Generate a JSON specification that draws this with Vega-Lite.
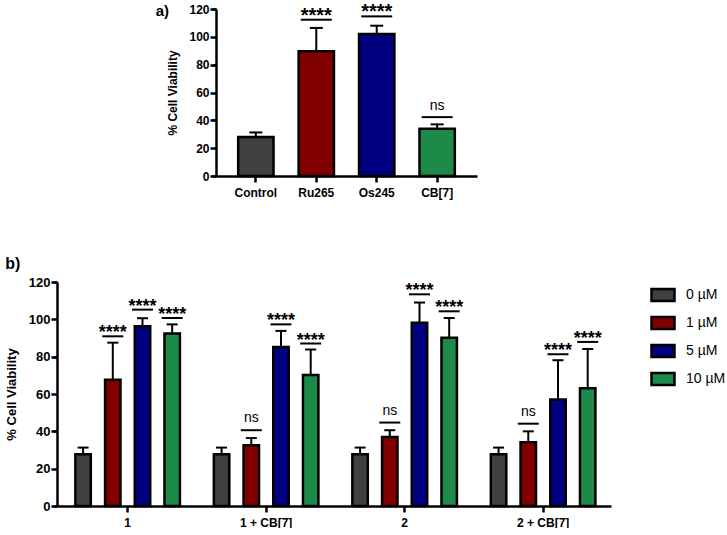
{
  "$schema": "https://vega.github.io/schema/vega-lite/v6.json",
  "padding": {"left": 5, "top": 2, "right": 0, "bottom": 0},
  "background": "white",
  "config": {
    "view": {"stroke": null},
    "font": "Liberation Sans",
    "axis": {
      "domainColor": "black", "domainWidth": 2.5, "tickColor": "black", "tickWidth": 2.5,
      "labelColor": "black", "labelFontWeight": "bold", "labelFont": "Liberation Sans",
      "labelOverlap": false,
      "titleColor": "black", "titleFontWeight": "bold", "titleFont": "Liberation Sans", "grid": false
    }
  },
  "resolve": {"scale": {"color": "independent"}, "legend": {"color": "independent"}},
  "spacing": 58,
  "vconcat": [
    {
      "spacing": 47,
      "bounds": "flush",
      "hconcat": [
        {
          "width": 112, "height": 1,
          "title": {"text": "a)", "anchor": "end", "frame": "group", "orient": "bottom", "fontSize": 15, "fontWeight": "bold", "color": "black", "offset": 0, "dy": -11},
          "data": {"values": [{"label": ""}]},
          "mark": {"type": "text", "opacity": 0},
          "encoding": {"text": {"field": "label"}}
        },
        {
          "width": 261, "height": 167,
          "data": {"values": [
            {"group": "Control", "mean": 28.0, "upper": 31.3, "sig": null, "label": null},
            {"group": "Ru265", "mean": 89.6, "upper": 106.4, "sig": 112.3, "label": "****"},
            {"group": "Os245", "mean": 102.1, "upper": 108.0, "sig": 114.7, "label": "****"},
            {"group": "CB[7]", "mean": 34.0, "upper": 37.1, "sig": 42.3, "label": "ns"}
          ]},
          "encoding": {
            "x": {"field": "group", "type": "nominal", "sort": null,
              "scale": {"paddingInner": 0.415, "paddingOuter": 0.367},
              "axis": {"title": null, "labelAngle": 0, "labelFontSize": 12, "tickSize": 6, "labelPadding": 5}}
          },
          "resolve": {"axis": {"y": "independent"}},
          "layer": [
            {
              "layer": [
                {
                  "mark": {"type": "bar", "stroke": "black", "strokeWidth": 2.5, "opacity": 1},
                  "encoding": {
                    "y": {"field": "mean", "type": "quantitative",
                      "scale": {"domain": [0, 120], "nice": false},
                      "axis": {"title": null, "labels": false,
                        "values": [0, 10, 20, 30, 40, 50, 60, 70, 80, 90, 100, 110, 120],
                        "tickSize": 4}},
                    "color": {"field": "group", "type": "nominal",
                      "scale": {"domain": ["Control", "Ru265", "Os245", "CB[7]"], "range": ["#404040", "#800000", "#000080", "#1e8a4a"]},
                      "legend": null}
                  }
                },
                {
                  "mark": {"type": "rule", "stroke": "black", "strokeWidth": 2},
                  "encoding": {"y": {"field": "mean", "type": "quantitative"}, "y2": {"field": "upper"}}
                },
                {
                  "mark": {"type": "tick", "color": "black", "thickness": 2, "size": 13, "opacity": 1},
                  "encoding": {"y": {"field": "upper", "type": "quantitative"}}
                },
                {
                  "transform": [{"filter": "datum.sig != null"}],
                  "mark": {"type": "tick", "color": "black", "thickness": 2, "size": 31, "opacity": 1},
                  "encoding": {"y": {"field": "sig", "type": "quantitative"}}
                },
                {
                  "transform": [{"filter": "datum.label === '****'"}],
                  "mark": {"type": "text", "fontSize": 20, "fontWeight": "bold", "baseline": "alphabetic", "dy": 2, "color": "black"},
                  "encoding": {"y": {"field": "sig", "type": "quantitative"}, "text": {"field": "label"}}
                },
                {
                  "transform": [{"filter": "datum.label === 'ns'"}],
                  "mark": {"type": "text", "fontSize": 14, "baseline": "alphabetic", "dy": -7, "color": "black"},
                  "encoding": {"y": {"field": "sig", "type": "quantitative"}, "text": {"field": "label"}}
                }
              ]
            },
            {
              "mark": {"type": "rule", "opacity": 0},
              "encoding": {"y": {"field": "mean", "type": "quantitative",
                "axis": {"orient": "left", "values": [0, 20, 40, 60, 80, 100, 120], "labelOverlap": false,
                  "domain": false, "tickSize": 6, "labelFontSize": 12, "labelPadding": 1,
                  "title": "% Cell Viability", "titleFontSize": 12, "titlePadding": 9}}}
            }
          ]
        }
      ]
    },
    {
      "width": 554, "height": 224,
      "title": {"text": "b)", "anchor": "start", "frame": "bounds", "fontSize": 16, "fontWeight": "bold", "color": "black"},
      "data": {"values": [
        {"compound": "1", "conc": "0 µM", "mean": 27.7, "upper": 31.3, "sig": null, "label": null},
        {"compound": "1", "conc": "1 µM", "mean": 67.7, "upper": 87.5, "sig": 90.9, "label": "****"},
        {"compound": "1", "conc": "5 µM", "mean": 96.3, "upper": 100.6, "sig": 105.2, "label": "****"},
        {"compound": "1", "conc": "10 µM", "mean": 92.4, "upper": 97.3, "sig": 100.7, "label": "****"},
        {"compound": "1 + CB[7]", "conc": "0 µM", "mean": 27.7, "upper": 31.3, "sig": null, "label": null},
        {"compound": "1 + CB[7]", "conc": "1 µM", "mean": 32.5, "upper": 36.4, "sig": 40.6, "label": "ns"},
        {"compound": "1 + CB[7]", "conc": "5 µM", "mean": 85.2, "upper": 93.8, "sig": 97.3, "label": "****"},
        {"compound": "1 + CB[7]", "conc": "10 µM", "mean": 70.2, "upper": 83.8, "sig": 87.0, "label": "****"},
        {"compound": "2", "conc": "0 µM", "mean": 27.7, "upper": 31.3, "sig": null, "label": null},
        {"compound": "2", "conc": "1 µM", "mean": 37.0, "upper": 40.6, "sig": 44.7, "label": "ns"},
        {"compound": "2", "conc": "5 µM", "mean": 98.2, "upper": 109.0, "sig": 113.4, "label": "****"},
        {"compound": "2", "conc": "10 µM", "mean": 90.2, "upper": 100.7, "sig": 104.3, "label": "****"},
        {"compound": "2 + CB[7]", "conc": "0 µM", "mean": 27.7, "upper": 31.3, "sig": null, "label": null},
        {"compound": "2 + CB[7]", "conc": "1 µM", "mean": 34.1, "upper": 40.0, "sig": 44.1, "label": "ns"},
        {"compound": "2 + CB[7]", "conc": "5 µM", "mean": 57.0, "upper": 78.1, "sig": 81.3, "label": "****"},
        {"compound": "2 + CB[7]", "conc": "10 µM", "mean": 63.1, "upper": 84.1, "sig": 87.9, "label": "****"}
      ]},
      "encoding": {
        "x": {"field": "compound", "type": "nominal", "sort": ["1", "1 + CB[7]", "2", "2 + CB[7]"],
          "scale": {"paddingInner": 0.2, "paddingOuter": 0.1, "align": 0.55},
          "axis": {"title": null, "labelAngle": 0, "labelFontSize": 12, "tickSize": 6, "labelPadding": 5}},
        "xOffset": {"field": "conc", "type": "nominal", "sort": ["0 µM", "1 µM", "5 µM", "10 µM"],
          "scale": {"paddingInner": 0.48, "paddingOuter": 0.105}}
      },
      "resolve": {"axis": {"y": "independent"}},
      "layer": [
        {
          "layer": [
            {
              "mark": {"type": "bar", "stroke": "black", "strokeWidth": 2.5, "opacity": 1},
              "encoding": {
                "y": {"field": "mean", "type": "quantitative",
                  "scale": {"domain": [0, 120], "nice": false},
                  "axis": {"title": null, "labels": false,
                    "values": [0, 10, 20, 30, 40, 50, 60, 70, 80, 90, 100, 110, 120],
                    "tickSize": 4}},
                "color": {"field": "conc", "type": "nominal",
                  "scale": {"domain": ["0 µM", "1 µM", "5 µM", "10 µM"], "range": ["#404040", "#800000", "#000080", "#1e8a4a"]},
                  "legend": {"title": null, "orient": "right", "offset": 39, "padding": 0,
                    "symbolType": "M-1,-0.52L1,-0.52L1,0.52L-1,0.52Z", "symbolSize": 529,
                    "symbolStrokeColor": "black", "symbolStrokeWidth": 2.5, "symbolOpacity": 1,
                    "labelFontSize": 14, "labelFont": "Liberation Sans", "labelColor": "black", "labelOffset": 10,
                    "rowPadding": 4}}
              }
            },
            {
              "mark": {"type": "rule", "stroke": "black", "strokeWidth": 2},
              "encoding": {"y": {"field": "mean", "type": "quantitative"}, "y2": {"field": "upper"}}
            },
            {
              "mark": {"type": "tick", "color": "black", "thickness": 2, "size": 11, "opacity": 1},
              "encoding": {"y": {"field": "upper", "type": "quantitative"}}
            },
            {
              "transform": [{"filter": "datum.sig != null"}],
              "mark": {"type": "tick", "color": "black", "thickness": 2, "size": 21, "opacity": 1},
              "encoding": {"y": {"field": "sig", "type": "quantitative"}}
            },
            {
              "transform": [{"filter": "datum.label === '****'"}],
              "mark": {"type": "text", "fontSize": 18, "fontWeight": "bold", "baseline": "alphabetic", "dy": 2, "color": "black"},
              "encoding": {"y": {"field": "sig", "type": "quantitative"}, "text": {"field": "label"}}
            },
            {
              "transform": [{"filter": "datum.label === 'ns'"}],
              "mark": {"type": "text", "fontSize": 14, "baseline": "alphabetic", "dy": -8, "color": "black"},
              "encoding": {"y": {"field": "sig", "type": "quantitative"}, "text": {"field": "label"}}
            }
          ]
        },
        {
          "mark": {"type": "rule", "opacity": 0},
          "encoding": {"y": {"field": "mean", "type": "quantitative",
            "axis": {"orient": "left", "values": [0, 20, 40, 60, 80, 100, 120], "labelOverlap": false,
              "domain": false, "tickSize": 6, "labelFontSize": 13, "labelPadding": 1,
              "title": "% Cell Viability", "titleFontSize": 13, "titlePadding": 10}}}
        }
      ]
    }
  ]
}
